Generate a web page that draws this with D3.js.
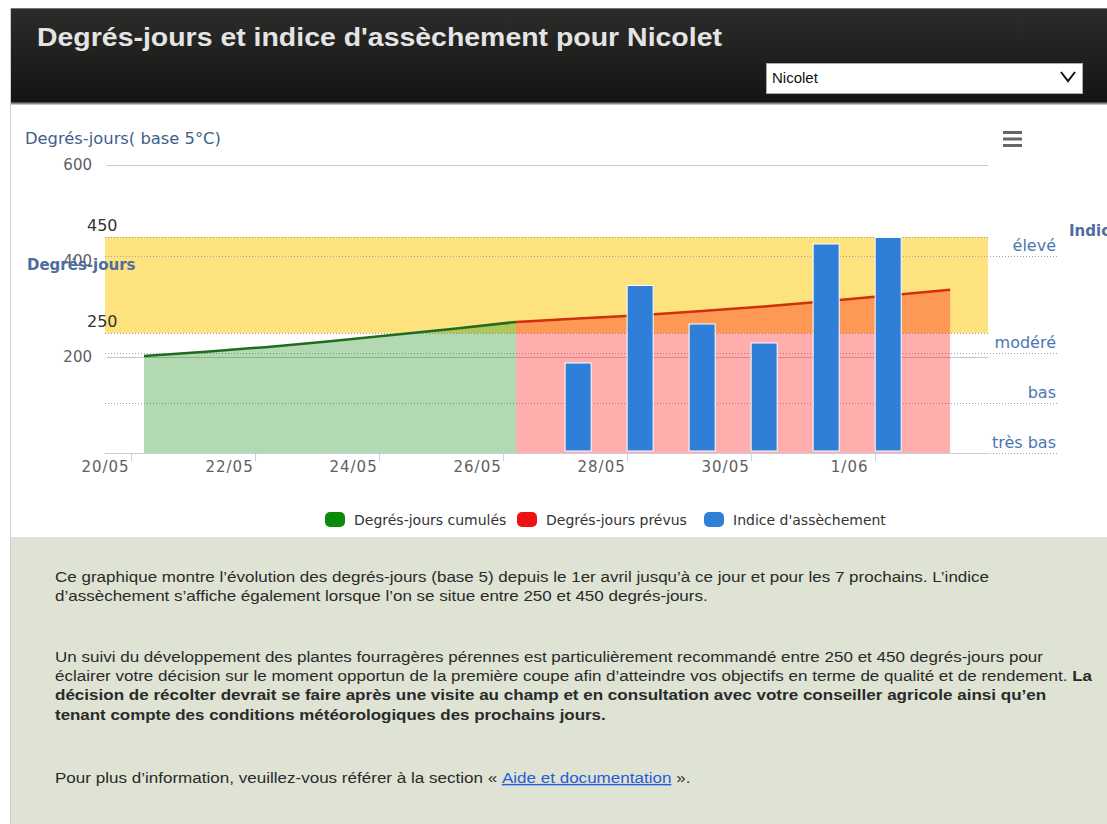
<!DOCTYPE html>
<html><head><meta charset="utf-8">
<script src="https://cdn.jsdelivr.net/npm/d3@7"></script>
<style>body{margin:0;background:#fff;overflow:hidden} svg{display:block}</style>
</head><body><svg id="c" width="1107" height="824"></svg>
<script>
// ---------- data ----------
const tickDays = [0, 2, 4, 6, 8, 10, 12];
const tickLabels = ["20/05", "22/05", "24/05", "26/05", "28/05", "30/05", "1/06"];
const cumulDays = [0, 1, 2, 3, 4, 5, 6];
const cumulValues = [202, 211, 221, 233, 246, 259, 273];
const prevuDays = [6, 7, 8, 9, 10, 11, 12, 13];
const prevuValues = [273, 280, 287, 296, 305, 316, 328, 340];
const indiceDays = [7, 8, 9, 10, 11, 12];
const indiceValues = [1.8, 3.35, 2.58, 2.2, 4.18, 4.31];
const indiceLevels = ["très bas", "bas", "modéré", "élevé"];
const indiceLevelValues = [0, 1, 2, 3.94];
const yTickValues = [200, 400, 600];
const bandValues = [250, 450];
const legendLabels = ["Degrés-jours cumulés", "Degrés-jours prévus", "Indice d'assèchement"];
const legendColors = ["#0a8a0a", "#ee1111", "#2f7ed8"];

// ---------- layout ----------
const svg = d3.select("#c");
const FONT = "'DejaVu Sans', sans-serif";
const PFONT = "'Liberation Sans', Arial, sans-serif";
const plotL = 105, plotR = 988, plotT = 165, plotB = 453;
const pointOffset = 0.21;

function fitWidth(sel, x0, w) {
  const n = sel.node().getComputedTextLength();
  if (n > 0) sel.attr("transform", `translate(${x0},0) scale(${w / n},1) translate(${-x0},0)`);
}

const x = d3.scaleLinear().domain([-0.42, 13.82]).range([plotL, plotR]);
const y = d3.scaleLinear().domain([0, 600]).range([plotB, plotT]);
const yi = d3.scaleLinear().domain([0, 5.76]).range([plotB, plotT]);

// page chrome
const defs = svg.append("defs");
const g1 = defs.append("linearGradient").attr("id", "hdr").attr("x1", 0).attr("y1", 0).attr("x2", 0).attr("y2", 1);
g1.append("stop").attr("offset", "0%").attr("stop-color", "#2c2c2a");
g1.append("stop").attr("offset", "100%").attr("stop-color", "#141413");
svg.append("rect").attr("x", 0).attr("y", 0).attr("width", 1107).attr("height", 824).attr("fill", "#fff");
svg.append("rect").attr("x", 10).attr("y", 8).attr("width", 1097).attr("height", 95).attr("fill", "url(#hdr)");
svg.append("line").attr("x1", 10).attr("x2", 1107).attr("y1", 8.5).attr("y2", 8.5).attr("stroke", "#777");
svg.append("line").attr("x1", 10).attr("x2", 1107).attr("y1", 103.5).attr("y2", 103.5).attr("stroke", "#8a8a8a").attr("stroke-width", 2);
svg.append("line").attr("x1", 10.5).attr("x2", 10.5).attr("y1", 8).attr("y2", 824).attr("stroke", "#cfcfcf");
const title = svg.append("text").attr("x", 37).attr("y", 46).attr("font-family", PFONT).attr("font-weight", "bold")
  .attr("font-size", 26).attr("fill", "#e4e4e4").text("Degrés-jours et indice d'assèchement pour Nicolet");
fitWidth(title, 37, 685);
// select box
svg.append("rect").attr("x", 766.5).attr("y", 63.5).attr("width", 316).attr("height", 30).attr("fill", "#fff").attr("stroke", "#aaa");
svg.append("text").attr("x", 772).attr("y", 83).attr("font-family", PFONT).attr("font-size", 15).attr("fill", "#111").text("Nicolet");
svg.append("path").attr("d", "M1061,72 L1068,81 L1075,72").attr("fill", "none").attr("stroke", "#111").attr("stroke-width", 2);

// text region
svg.append("rect").attr("x", 11).attr("y", 537).attr("width", 1096).attr("height", 287).attr("fill", "#dee3d4");

// ---------- chart ----------
svg.append("g").selectAll("line").data(yTickValues).join("line")
  .attr("x1", plotL + 2).attr("x2", plotR).attr("y1", d => Math.round(y(d)) + 0.5).attr("y2", d => Math.round(y(d)) + 0.5)
  .attr("stroke", "#c8c8c8");
svg.append("g").selectAll("text").data(yTickValues).join("text")
  .attr("x", 92).attr("y", d => y(d) + 5).attr("text-anchor", "end")
  .attr("font-family", FONT).attr("font-size", 15).attr("fill", "#606060").text(d => d);

// plot band
svg.append("rect").attr("x", plotL).attr("width", plotR - plotL)
  .attr("y", y(bandValues[1])).attr("height", y(bandValues[0]) - y(bandValues[1])).attr("fill", "#fee27e");
svg.append("g").selectAll("line").data(bandValues).join("line")
  .attr("x1", plotL).attr("x2", plotR).attr("y1", d => Math.round(y(d)) + 0.5).attr("y2", d => Math.round(y(d)) + 0.5)
  .attr("stroke", "#a89a70").attr("stroke-dasharray", "1,2");
svg.append("g").selectAll("text").data(bandValues).join("text")
  .attr("x", 87).attr("y", d => y(d) - 6).attr("font-family", FONT).attr("font-size", 16).attr("fill", "#333").text(d => d);

// indice level dotted lines
svg.append("g").selectAll("line").data(indiceLevelValues).join("line")
  .attr("x1", plotL).attr("x2", 1058).attr("y1", d => Math.round(yi(d)) + 0.5).attr("y2", d => Math.round(yi(d)) + 0.5)
  .attr("stroke", "#9aa4b4").attr("stroke-dasharray", "1,2");

// areas
const cum = cumulDays.map((d, i) => [d, cumulValues[i]]);
const prev = prevuDays.map((d, i) => [d, prevuValues[i]]);
const area = d3.area().x(d => x(d[0] + pointOffset)).y0(plotB).y1(d => y(d[1]));
const line = d3.line().x(d => x(d[0] + pointOffset)).y(d => y(d[1]));
svg.append("path").datum(cum).attr("d", area).attr("fill", "#008000").attr("fill-opacity", 0.3);
svg.append("path").datum(prev).attr("d", area).attr("fill", "#ff0000").attr("fill-opacity", 0.32);
svg.append("path").datum(cum).attr("d", line).attr("fill", "none").attr("stroke", "#1f6b1f").attr("stroke-width", 2.5);
svg.append("path").datum(prev).attr("d", line).attr("fill", "none").attr("stroke", "#d0300a").attr("stroke-width", 2.5);

// bars
const bw = x(0.42) - x(0);
svg.append("g").selectAll("rect").data(indiceValues).join("rect")
  .attr("x", (d, i) => x(indiceDays[i] + pointOffset) - bw / 2).attr("width", bw)
  .attr("y", d => yi(d)).attr("height", d => plotB - 2 - yi(d))
  .attr("fill", "#2f7ed8").attr("stroke", "#fff").attr("stroke-width", 1);

// x axis
const xAxis = d3.axisBottom(x).tickValues(tickDays).tickFormat((d, i) => tickLabels[i]).tickSize(8).tickSizeOuter(0);
const xg = svg.append("g").attr("transform", `translate(0,${plotB})`).call(xAxis);
xg.select(".domain").attr("stroke", "#c0d0e0");
xg.selectAll(".tick line").attr("stroke", "#c0d0e0");
xg.selectAll(".tick text").attr("dx", -26).attr("dy", 8).attr("font-family", FONT).attr("font-size", 15)
  .attr("letter-spacing", 1).attr("fill", "#606060");

// right axis labels
svg.append("g").selectAll("text").data(indiceLevels).join("text")
  .attr("x", 1056).attr("y", (d, i) => yi(indiceLevelValues[i]) - 5).attr("text-anchor", "end")
  .attr("font-family", FONT).attr("font-size", 16).attr("fill", "#4a77b0").text(d => d);

// axis titles
const yt = svg.append("text").attr("x", 25).attr("y", 144).attr("font-family", FONT).attr("font-size", 15).attr("fill", "#3e5f8a").text("Degrés-jours( base 5°C)");
fitWidth(yt, 25, 196);
svg.append("text").attr("x", 27).attr("y", 270).attr("font-family", FONT).attr("font-weight", "bold").attr("font-size", 15).attr("fill", "#4d6e9e").text("Degrés-jours");
svg.append("text").attr("x", 1069).attr("y", 236).attr("font-family", FONT).attr("font-weight", "bold").attr("font-size", 15).attr("fill", "#4d6e9e").text("Indice d'assèchement");

// menu icon
svg.append("g").selectAll("rect").data([0, 1, 2]).join("rect")
  .attr("x", 1003).attr("width", 19).attr("y", d => 131 + d * 6.5).attr("height", 3).attr("fill", "#666");

// legend
const legX = [325, 517, 704];
const lg = svg.append("g").selectAll("g").data(legendLabels).join("g").attr("transform", (d, i) => `translate(${legX[i]},512)`);
lg.append("rect").attr("width", 20).attr("height", 15).attr("rx", 5).attr("fill", (d, i) => legendColors[i]);
lg.append("text").attr("x", 29).attr("y", 13).attr("font-family", FONT).attr("font-size", 14).attr("fill", "#333").text(d => d);

// ---------- paragraphs ----------
const para = [
  {y: 582, w: 935, parts: [["Ce graphique montre l’évolution des degrés-jours (base 5) depuis le 1er avril jusqu’à ce jour et pour les 7 prochains. L’indice", 0]]},
  {y: 601, w: 653, parts: [["d’assèchement s’affiche également lorsque l’on se situe entre 250 et 450 degrés-jours.", 0]]},
  {y: 662, w: 989, parts: [["Un suivi du développement des plantes fourragères pérennes est particulièrement recommandé entre 250 et 450 degrés-jours pour", 0]]},
  {y: 681, w: 1038, parts: [["éclairer votre décision sur le moment opportun de la première coupe afin d’atteindre vos objectifs en terme de qualité et de rendement. ", 0], ["La", 1]]},
  {y: 700, w: 992, parts: [["décision de récolter devrait se faire après une visite au champ et en consultation avec votre conseiller agricole ainsi qu’en", 1]]},
  {y: 720, w: 551, parts: [["tenant compte des conditions météorologiques des prochains jours.", 1]]},
  {y: 783, w: 635, parts: [["Pour plus d’information, veuillez-vous référer à la section « ", 0], ["Aide et documentation", 2], [" ».", 0]]}
];
para.forEach(p => {
  const t = svg.append("text").attr("x", 55).attr("y", p.y).attr("font-family", PFONT).attr("font-size", 14.5).attr("fill", "#2a2a2a");
  p.parts.forEach(([s, k]) => {
    const ts = t.append("tspan").text(s);
    if (k === 1) ts.attr("font-weight", "bold");
    if (k === 2) ts.attr("fill", "#2a5bd7").attr("text-decoration", "underline");
  });
  fitWidth(t, 55, p.w);
});
</script></body></html>
